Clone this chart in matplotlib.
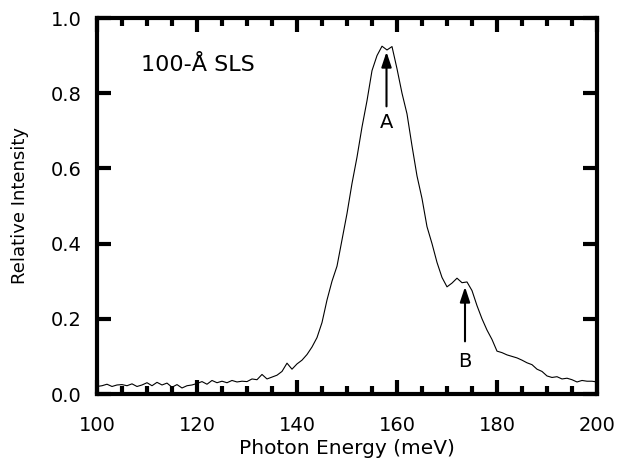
import matplotlib
matplotlib.use("Agg")
import matplotlib.pyplot as plt
import numpy as np

plt.rcParams['font.family'] = ['DejaVu Sans']

energy = np.arange(100, 201, 1)
intensity = [
    0.020, 0.022, 0.026, 0.020, 0.024, 0.025, 0.022, 0.027, 0.020, 0.024,
    0.030, 0.022, 0.031, 0.024, 0.029, 0.018, 0.025, 0.016, 0.022, 0.024,
    0.028, 0.033, 0.026, 0.036, 0.030, 0.034, 0.030, 0.036, 0.032, 0.034,
    0.033, 0.040, 0.038, 0.052, 0.040, 0.045, 0.050, 0.060, 0.082, 0.066,
    0.080, 0.090, 0.105, 0.125, 0.150, 0.190, 0.250, 0.300, 0.340, 0.410,
    0.480, 0.560, 0.630, 0.710, 0.780, 0.860, 0.900, 0.925, 0.915, 0.924,
    0.865, 0.800, 0.745, 0.660, 0.580, 0.520, 0.445, 0.400, 0.350, 0.310,
    0.285, 0.295, 0.308, 0.296, 0.298, 0.275, 0.235, 0.200, 0.170, 0.145,
    0.114, 0.110, 0.104, 0.100, 0.096, 0.090, 0.083, 0.078, 0.066, 0.060,
    0.048, 0.044, 0.046, 0.040, 0.042, 0.038, 0.032, 0.036, 0.034, 0.034,
    0.032,
]
x_ticks = [100, 120, 140, 160, 180, 200]
y_ticks = [0.0, 0.2, 0.4, 0.6, 0.8, 1.0]
arrow_labels = ["A", "B"]
arrow_x = [157.9, 173.6]
arrow_tail = [0.765, 0.14]
arrow_head = [0.91, 0.285]
label_y = [0.722, 0.086]

fig = plt.figure(figsize=(6.18, 4.58), dpi=100)
ax = fig.add_axes([97 / 618, 1 - 394 / 458, 500 / 618, 376 / 458])
ax.plot(energy, intensity, color='black', lw=0.8)
ax.set_xlim(100, 200)
ax.set_ylim(0, 1.0)
ax.set_xticks(x_ticks)
ax.set_xticks(np.arange(100, 201, 5), minor=True)
ax.set_yticks(y_ticks)
ax.set_yticklabels([f"{v:.1f}" for v in y_ticks])
ax.tick_params(which='both', direction='in', top=True, right=True,
               labelsize=14, width=3)
ax.tick_params(axis='x', which='major', pad=16)
ax.tick_params(axis='y', which='major', pad=11)
ax.tick_params(which='major', length=10)
ax.tick_params(which='minor', length=6)
for s in ax.spines.values():
    s.set_linewidth(3)
ax.set_xlabel("Photon Energy (meV)", fontsize=14.5, labelpad=3)
ax.set_ylabel("Relative Intensity", fontsize=13, labelpad=16)

for lab, xa, yt, yh, yl in zip(arrow_labels, arrow_x, arrow_tail, arrow_head, label_y):
    ax.annotate("", xy=(xa, yh), xytext=(xa, yt),
                arrowprops=dict(arrowstyle='-|>,head_length=0.9,head_width=0.3',
                                color='black', lw=1.5, shrinkA=0, shrinkB=0))
    ax.text(xa, yl, lab, ha='center', va='center', fontsize=14)

ax.text(108.8, 0.875, "100-Å SLS", fontsize=16, ha='left', va='center')

fig.savefig("out.png", dpi=100)
